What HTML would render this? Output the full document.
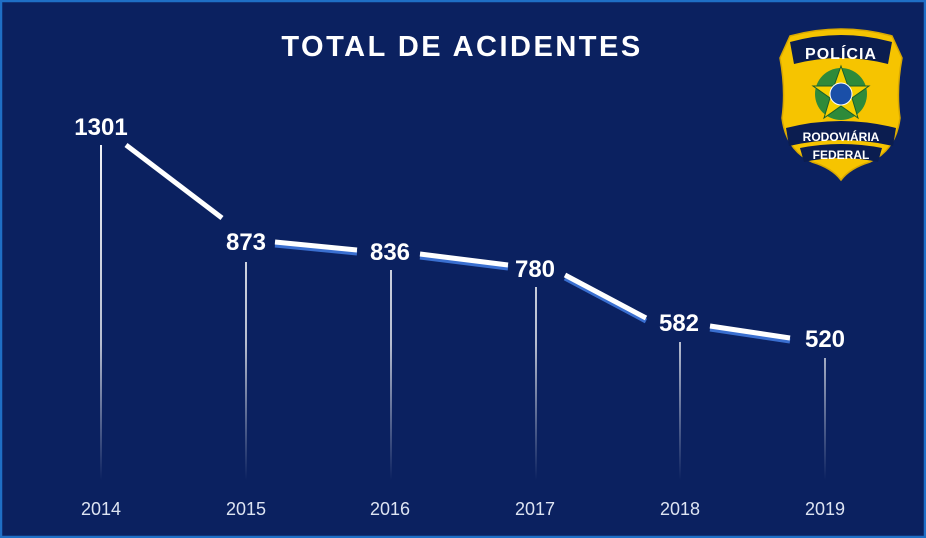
<!DOCTYPE html>
<html><head><meta charset="utf-8"><style>
html,body{margin:0;padding:0;background:#0b2160;}
svg{display:block;}
</style></head><body>
<svg width="926" height="538" viewBox="0 0 926 538" xmlns="http://www.w3.org/2000/svg">
<defs>
<linearGradient id="dl" gradientUnits="userSpaceOnUse" x1="0" y1="140" x2="0" y2="480">
<stop offset="0" stop-color="#fff" stop-opacity="0.95"/>
<stop offset="0.6" stop-color="#fff" stop-opacity="0.7"/>
<stop offset="1" stop-color="#fff" stop-opacity="0"/>
</linearGradient>
</defs>
<rect x="0" y="0" width="926" height="538" fill="#0b2160"/>
<rect x="1" y="1" width="924" height="536" fill="none" stroke="#1f6fc6" stroke-width="2.5"/>
<text x="462" y="56" text-anchor="middle" font-family="Liberation Sans, sans-serif" font-weight="bold" font-size="29" letter-spacing="2.5" fill="#fff">TOTAL DE ACIDENTES</text>
<g fill="url(#dl)">
<rect x="100" y="145" width="2" height="335"/>
<rect x="245" y="262" width="2" height="218"/>
<rect x="390" y="270" width="2" height="210"/>
<rect x="535" y="287" width="2" height="193"/>
<rect x="679" y="342" width="2" height="138"/>
<rect x="824" y="358" width="2" height="122"/>
</g>
<g stroke-width="5" stroke-linecap="butt">
<g stroke="#3a6fd0" transform="translate(0,3)">
<line x1="275" y1="242" x2="357" y2="250"/>
<line x1="420" y1="254" x2="508" y2="265"/>
<line x1="565" y1="275" x2="646" y2="318"/>
<line x1="710" y1="326" x2="790" y2="338"/>
</g>
<g stroke="#fff">
<line x1="126" y1="145" x2="222" y2="218"/>
<line x1="275" y1="242" x2="357" y2="250"/>
<line x1="420" y1="254" x2="508" y2="265"/>
<line x1="565" y1="275" x2="646" y2="318"/>
<line x1="710" y1="326" x2="790" y2="338"/>
</g>
</g>
<g font-family="Liberation Sans, sans-serif" font-weight="bold" font-size="24" fill="#fff" text-anchor="middle">
<text x="101" y="135">1301</text>
<text x="246" y="250">873</text>
<text x="390" y="260">836</text>
<text x="535" y="277">780</text>
<text x="679" y="331">582</text>
<text x="825" y="347">520</text>
</g>
<g font-family="Liberation Sans, sans-serif" font-size="18" fill="#dde4f2" text-anchor="middle">
<text x="101" y="515">2014</text>
<text x="246" y="515">2015</text>
<text x="390" y="515">2016</text>
<text x="535" y="515">2017</text>
<text x="680" y="515">2018</text>
<text x="825" y="515">2019</text>
</g>
<g>
<path d="M790,36 Q841,22 892,36 L902,58 Q896,90 900,118 Q896,150 870,162 Q850,168 841,180 Q832,168 812,162 Q786,150 782,118 Q786,90 780,58 Z" fill="#f6c400" stroke="#d9a800" stroke-width="1.5"/>
<path d="M790,42 Q841,28 892,42 L888,64 Q841,52 794,64 Z" fill="#0b1d50"/>
<text x="841" y="59" text-anchor="middle" font-family="Liberation Sans, sans-serif" font-weight="bold" font-size="16" fill="#fff" letter-spacing="1">POLÍCIA</text>
<circle cx="841" cy="94" r="26" fill="#2e8a3a"/>
<polygon points="841,66 848,86 869,86 852,98 858,118 841,106 824,118 830,98 813,86 834,86" fill="#f6d000" stroke="#1a5e2a" stroke-width="1"/>
<circle cx="841" cy="94" r="11" fill="#1a4fa8" stroke="#fff" stroke-width="1"/>
<path d="M786,128 Q841,114 896,128 L893,146 Q841,134 789,146 Z" fill="#0b1d50"/>
<text x="841" y="141" text-anchor="middle" font-family="Liberation Sans, sans-serif" font-weight="bold" font-size="12" fill="#fff">RODOVIÁRIA</text>
<path d="M800,148 Q841,140 882,148 L878,162 Q841,154 804,162 Z" fill="#0b1d50"/>
<text x="841" y="159" text-anchor="middle" font-family="Liberation Sans, sans-serif" font-weight="bold" font-size="12" fill="#fff">FEDERAL</text>
</g>
</svg>
</body></html>
